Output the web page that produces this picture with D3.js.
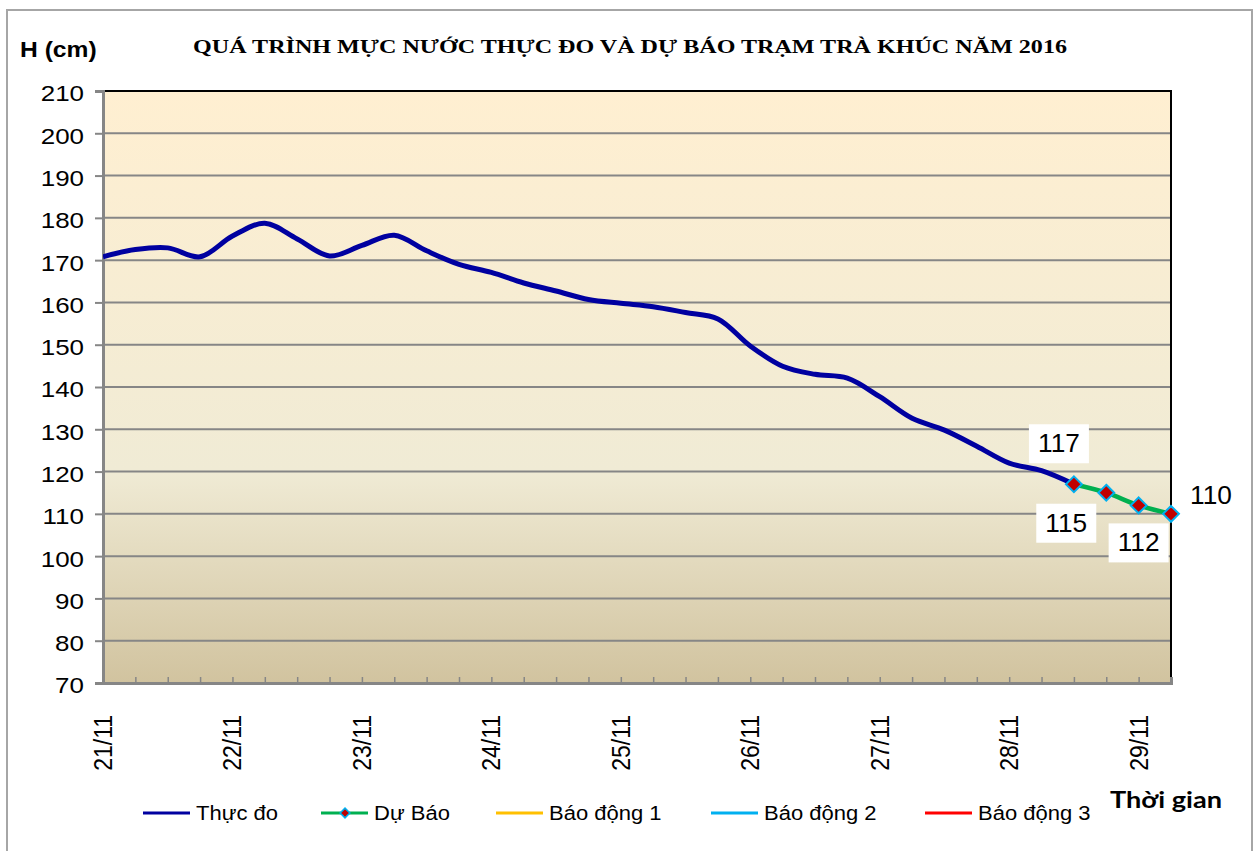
<!DOCTYPE html>
<html>
<head>
<meta charset="utf-8">
<script src="https://cdn.jsdelivr.net/npm/d3@7"></script>
<style>
  body { margin: 0; background: #fff; }
</style>
</head>
<body>
<script>
// data (cm, 6-hourly from 21/11 00h)
var dates = ['21/11', '22/11', '23/11', '24/11', '25/11', '26/11', '27/11', '28/11', '29/11']
var thucDo = [170.8, 172.5, 172.9, 170.8, 175.7, 178.7, 175.0, 171.0, 173.5, 175.9,
              172.2, 169.0, 167.1, 164.6, 162.7, 160.7, 159.8, 159.0, 157.6, 156.1,
              149.7, 144.9, 143.0, 142.1, 137.7, 132.6, 129.8, 126.0, 122.0, 120.2, 117.0]
var duBao = [117, 115, 112, 110]
var duBaoStart = 30
var baoDong = [350, 500, 650]
var yTicks = d3.range(70, 211, 10)
var seriesNames = ['Thực đo', 'Dự Báo', 'Báo động 1', 'Báo động 2', 'Báo động 3']
var seriesColors = ['#0000a0', '#00b050', '#ffc000', '#00b0f0', '#ff0000']

var width = 1257, height = 851
var margin = { top: 91, left: 103, right: 1171, bottom: 683 }
var nPts = thucDo.length + duBao.length - 1
var sans = '"Liberation Sans", Arial, sans-serif'

var svg = d3.select('body').append('svg')
  .attr('width', width)
  .attr('height', height)
  .attr('font-family', sans)

// stretch text horizontally like the picture
function stretch(sel, k) {
  sel.each(function() {
    var w = this.getComputedTextLength()
    d3.select(this).attr('textLength', w * k).attr('lengthAdjust', 'spacingAndGlyphs')
  })
}

svg.append('rect')
  .attr('x', 7).attr('y', 10).attr('width', 1245).attr('height', 850)
  .attr('fill', '#fff').attr('stroke', '#a6a6a6').attr('stroke-width', 2)

var x_scale = d3.scaleLinear().domain([0, nPts - 1]).range([margin.left, margin.right])
var y_scale = d3.scaleLinear().domain([70, 210]).range([margin.bottom, margin.top])

var defs = svg.append('defs')
var grad = defs.append('linearGradient').attr('id', 'parch')
  .attr('x1', 0).attr('y1', 0).attr('x2', 0).attr('y2', 1)
grad.append('stop').attr('offset', '0%').attr('stop-color', '#ffefd1')
grad.append('stop').attr('offset', '64%').attr('stop-color', '#f0ebd5')
grad.append('stop').attr('offset', '100%').attr('stop-color', '#d1c39f')
defs.append('clipPath').attr('id', 'plotclip').append('rect')
  .attr('x', margin.left).attr('y', margin.top)
  .attr('width', margin.right - margin.left).attr('height', margin.bottom - margin.top)

svg.append('rect')
  .attr('x', margin.left).attr('y', margin.top)
  .attr('width', margin.right - margin.left).attr('height', margin.bottom - margin.top)
  .attr('fill', 'url(#parch)')

// gridlines
svg.append('g').selectAll('line')
  .data(yTicks.slice(1))
  .enter().append('line')
  .attr('x1', margin.left).attr('x2', margin.right)
  .attr('y1', function(d) { return y_scale(d) }).attr('y2', function(d) { return y_scale(d) })
  .attr('stroke', '#868686').attr('stroke-width', 2)

// plot border top/right
svg.append('path')
  .attr('d', 'M' + margin.left + ',' + margin.top + 'H' + margin.right + 'V' + margin.bottom)
  .attr('fill', 'none').attr('stroke', '#000').attr('stroke-width', 2)

// y axis
var yAxis = svg.append('g')
  .attr('transform', 'translate(' + margin.left + ',0)')
  .call(d3.axisLeft(y_scale).tickValues(yTicks).tickSize(8).tickPadding(11))
yAxis.attr('font-family', sans).attr('font-size', 22)
yAxis.select('.domain').attr('stroke', '#868686').attr('stroke-width', 3)
yAxis.selectAll('.tick line').attr('stroke', '#868686').attr('stroke-width', 2)
yAxis.selectAll('.tick text')
  .attr('dy', '0.45em').attr('fill', '#000')
stretch(yAxis.selectAll('.tick text'), 1.18)

// x axis
var xAxis = svg.append('g')
  .attr('transform', 'translate(0,' + margin.bottom + ')')
  .call(d3.axisBottom(x_scale).tickValues(d3.range(1, nPts)).tickSize(-6).tickFormat(''))
xAxis.select('.domain').attr('stroke', '#868686').attr('stroke-width', 3)
xAxis.selectAll('.tick line').attr('stroke', '#868686').attr('stroke-width', 1.5)

svg.append('g').selectAll('text')
  .data(dates)
  .enter().append('text')
  .attr('transform', function(d, i) {
    return 'translate(' + (x_scale(i * 4) + 9) + ',715)rotate(-90)scale(1,1.15)'
  })
  .attr('text-anchor', 'end')
  .attr('font-size', 23)
  .text(function(d) { return d })

// series
var plot = svg.append('g').attr('clip-path', 'url(#plotclip)')
var line = d3.line()
  .x(function(d) { return x_scale(d.i) })
  .y(function(d) { return y_scale(d.v) })
  .curve(d3.curveCatmullRom.alpha(0.5))

baoDong.forEach(function(v, k) {
  plot.append('line')
    .attr('x1', margin.left).attr('x2', margin.right)
    .attr('y1', y_scale(v)).attr('y2', y_scale(v))
    .attr('stroke', seriesColors[k + 2]).attr('stroke-width', 3)
})

var obs = thucDo.map(function(v, i) { return { i: i, v: v } })
var fc = duBao.map(function(v, i) { return { i: duBaoStart + i, v: v } })

plot.append('path').datum(obs)
  .attr('d', line).attr('fill', 'none')
  .attr('stroke', seriesColors[0]).attr('stroke-width', 5).attr('stroke-linejoin', 'round')

svg.append('path').datum(fc)
  .attr('d', line).attr('fill', 'none')
  .attr('stroke', seriesColors[1]).attr('stroke-width', 4.5)

var diamond = d3.symbol().type(d3.symbolDiamond2).size(160)
svg.append('g').selectAll('path')
  .data(fc)
  .enter().append('path')
  .attr('d', diamond)
  .attr('transform', function(d) { return 'translate(' + x_scale(d.i) + ',' + y_scale(d.v) + ')' })
  .attr('fill', '#c00000').attr('stroke', '#00b0f0').attr('stroke-width', 2)

// data labels (hand placed in the original)
var labelOffsets = [[-15, -41], [-40, 30], [0, 37], [40, -19]]
var labelBox = [true, true, true, false]
var labels = svg.append('g').selectAll('g')
  .data(fc)
  .enter().append('g')
  .attr('transform', function(d, i) {
    return 'translate(' + (x_scale(d.i) + labelOffsets[i][0]) + ',' + (y_scale(d.v) + labelOffsets[i][1]) + ')'
  })
labels.filter(function(d, i) { return labelBox[i] })
  .append('rect')
  .attr('x', -30).attr('y', -19).attr('width', 60).attr('height', 39)
  .attr('fill', '#fff')
var labelText = labels.append('text')
  .attr('text-anchor', 'middle')
  .attr('dy', '0.36em')
  .attr('font-size', 25)
  .text(function(d) { return d.v })
stretch(labelText, 1.05)

// titles
svg.append('text')
  .attr('x', 630).attr('y', 53)
  .attr('text-anchor', 'middle')
  .attr('font-family', '"Liberation Serif", "Times New Roman", serif')
  .attr('font-weight', 'bold')
  .attr('font-size', 19)
  .attr('textLength', 874).attr('lengthAdjust', 'spacingAndGlyphs')
  .text('QUÁ TRÌNH MỰC NƯỚC THỰC ĐO VÀ DỰ BÁO TRẠM TRÀ KHÚC NĂM 2016')

var hLabel = svg.append('text')
  .attr('x', 20).attr('y', 57)
  .attr('font-weight', 'bold').attr('font-size', 22)
  .text('H (cm)')
stretch(hLabel, 1.12)

svg.append('text')
  .attr('x', 1110).attr('y', 808)
  .attr('font-family', 'Lato, "Open Sans", sans-serif')
  .attr('font-weight', 'bold').attr('font-size', 23)
  .attr('textLength', 112).attr('lengthAdjust', 'spacingAndGlyphs')
  .text('Thời gian')

// legend
var legendX = [143, 321, 496, 711, 925]
var legend = svg.append('g').selectAll('g')
  .data(seriesNames)
  .enter().append('g')
  .attr('transform', function(d, i) { return 'translate(' + legendX[i] + ',813)' })
legend.append('line')
  .attr('x1', 0).attr('x2', 47)
  .attr('stroke', function(d, i) { return seriesColors[i] })
  .attr('stroke-width', 3)
legend.filter(function(d, i) { return i === 1 })
  .append('path')
  .attr('d', d3.symbol().type(d3.symbolDiamond2).size(60))
  .attr('transform', 'translate(24,0)')
  .attr('fill', '#c00000').attr('stroke', '#00b0f0').attr('stroke-width', 1.5)
var legendText = legend.append('text')
  .attr('x', 53).attr('dy', '0.36em')
  .attr('font-size', 20)
  .text(function(d) { return d })
stretch(legendText, 1.1)
</script>
</body>
</html>
